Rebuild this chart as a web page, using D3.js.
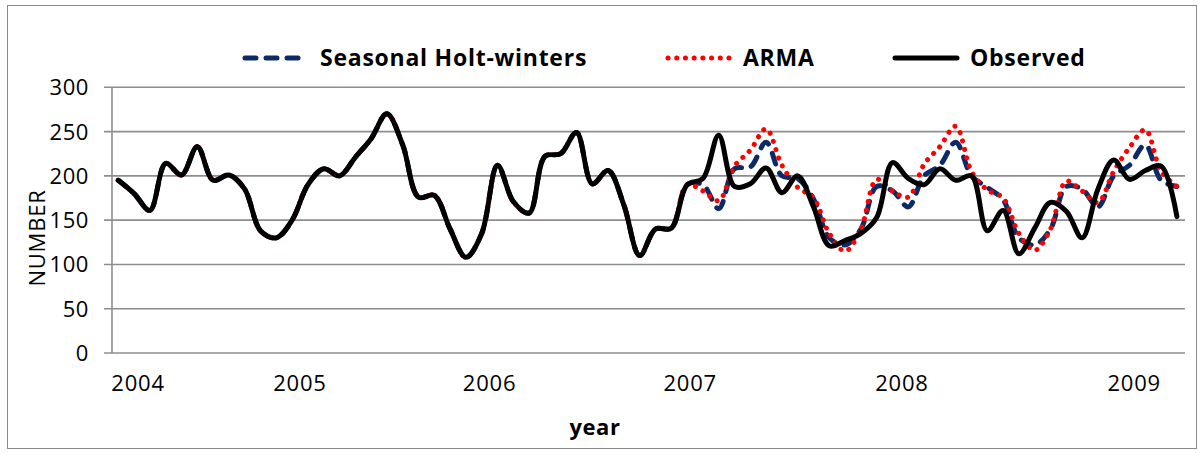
<!DOCTYPE html>
<html>
<head>
<meta charset="utf-8">
<script src="https://cdn.jsdelivr.net/npm/d3@7"></script>
<style>
  body { margin: 0; background: #fff; }
  text { font-family: "Open Sans", sans-serif; }
</style>
</head>
<body>
<div id="chart"></div>
<script>
// monthly values (index 0 = first point)
const observed = [195,180,161,214,201,233,195,201,185,138,130,150,190,208,200,221,242,270,235,176,
  178,140,108,135,212,171,158,222,225,249,191,206,167,110,140,141,190,197,246,188,
  191,209,181,200,165,121,127,135,153,215,197,190,208,195,200,138,161,112,141,170,
  160,130,185,218,196,206,211,154];

const holtWinters = [195,180,161,214,201,233,195,201,185,138,130,150,190,208,200,221,242,270,235,176,
  178,140,108,135,212,171,158,222,225,249,191,206,167,110,140,141,190,190,163,208,
  210,238,200,197,174,130,122,140,188,183,165,200,212,238,200,187,173,130,122,140,
  188,185,165,200,212,235,195,188];

const arma = [195,180,161,214,201,233,195,201,185,138,130,150,190,208,200,221,242,270,235,176,
  178,140,108,135,212,171,158,222,225,249,191,206,167,110,140,141,190,183,172,211,
  229,253,212,187,175,135,115,140,196,183,176,213,233,256,205,184,175,135,116,140,
  194,183,170,205,232,252,205,188];

const yearLabels = ["2004", "2005", "2006", "2007", "2008", "2009"];
const yearIndex  = [1.25, 11.5, 23.5, 36.2, 49.6, 64.3];   // where Excel put the labels
const yTicks     = [0, 50, 100, 150, 200, 250, 300];

const seriesNames = ["Seasonal Holt-winters", "ARMA", "Observed"];

const width = 1203, height = 453;
const plot = { left: 112, right: 1185, top: 87.3, bottom: 353 };

const svg = d3.select("#chart").append("svg")
    .attr("width", width)
    .attr("height", height);

svg.append("rect")
    .attr("x", 0).attr("y", 0)
    .attr("width", width).attr("height", height)
    .attr("fill", "#fff");

// outer chart frame
svg.append("rect")
    .attr("x", 7.5).attr("y", 5.5)
    .attr("width", 1189).attr("height", 443)
    .attr("fill", "none")
    .attr("stroke", "#8a8a8a")
    .attr("stroke-width", 1);

const x = d3.scaleLinear()
    .domain([0, observed.length - 1])
    .range([118.3, 1176.9]);

const y = d3.scaleLinear()
    .domain([0, 300])
    .range([plot.bottom, plot.top]);

// gridlines + y ticks
svg.append("g")
    .selectAll("line")
    .data(yTicks)
    .join("line")
        .attr("x1", 104)
        .attr("x2", plot.right)
        .attr("y1", d => y(d))
        .attr("y2", d => y(d))
        .attr("stroke", "#8e8e8e")
        .attr("stroke-width", 1.6);

svg.append("line")
    .attr("x1", plot.left).attr("x2", plot.left)
    .attr("y1", plot.top).attr("y2", plot.bottom)
    .attr("stroke", "#8e8e8e")
    .attr("stroke-width", 1.6);

svg.append("g")
    .selectAll("text")
    .data(yTicks)
    .join("text")
        .attr("x", 89)
        .attr("y", d => y(d))
        .attr("dy", "0.36em")
        .attr("text-anchor", "end")
        .attr("font-size", 22)
        .attr("letter-spacing", 0.6)
        .attr("fill", "#000")
        .text(d => d);

svg.append("g")
    .selectAll("text")
    .data(yearLabels)
    .join("text")
        .attr("x", (d, i) => x(yearIndex[i]))
        .attr("y", 391)
        .attr("text-anchor", "middle")
        .attr("font-size", 22)
        .attr("letter-spacing", 0.8)
        .text(d => d);

svg.append("text")
    .attr("transform", "translate(45,238) rotate(-90)")
    .attr("text-anchor", "middle")
    .attr("font-size", 22)
    .attr("letter-spacing", 0.8)
    .text("NUMBER");

svg.append("text")
    .attr("x", 595)
    .attr("y", 435)
    .attr("text-anchor", "middle")
    .attr("font-size", 22)
    .attr("font-weight", "bold")
    .attr("letter-spacing", 0.6)
    .text("year");

// series
const line = d3.line()
    .x((d, i) => x(i))
    .y(d => y(d))
    .curve(d3.curveCatmullRom.alpha(0.5));

const styles = [
    { data: holtWinters, stroke: "#0b2a66", width: 5, dash: "11,10", cap: "round" },
    { data: arma,        stroke: "#ff0000", width: 5, dash: "0.1,8.6", cap: "round" },
    { data: observed,    stroke: "#000000", width: 5, dash: null, cap: "round" }
];

svg.append("g")
    .attr("fill", "none")
    .selectAll("path")
    .data(styles)
    .join("path")
        .attr("d", d => line(d.data))
        .attr("stroke", d => d.stroke)
        .attr("stroke-width", d => d.width)
        .attr("stroke-dasharray", d => d.dash)
        .attr("stroke-linecap", d => d.cap)
        .attr("stroke-linejoin", "round");

// legend
const legendX = [245, 668, 895];
const legend = svg.append("g")
    .selectAll("g")
    .data(styles)
    .join("g")
        .attr("transform", (d, i) => `translate(${legendX[i]},58)`);

legend.append("line")
    .attr("x1", 0).attr("x2", 62)
    .attr("stroke", d => d.stroke)
    .attr("stroke-width", d => d.width)
    .attr("stroke-dasharray", d => d.dash)
    .attr("stroke-linecap", d => d.cap);

legend.append("text")
    .attr("x", 75)
    .attr("dy", "0.36em")
    .attr("font-size", 23)
    .attr("font-weight", "bold")
    .attr("letter-spacing", 0.75)
    .text((d, i) => seriesNames[i]);
</script>
</body>
</html>
